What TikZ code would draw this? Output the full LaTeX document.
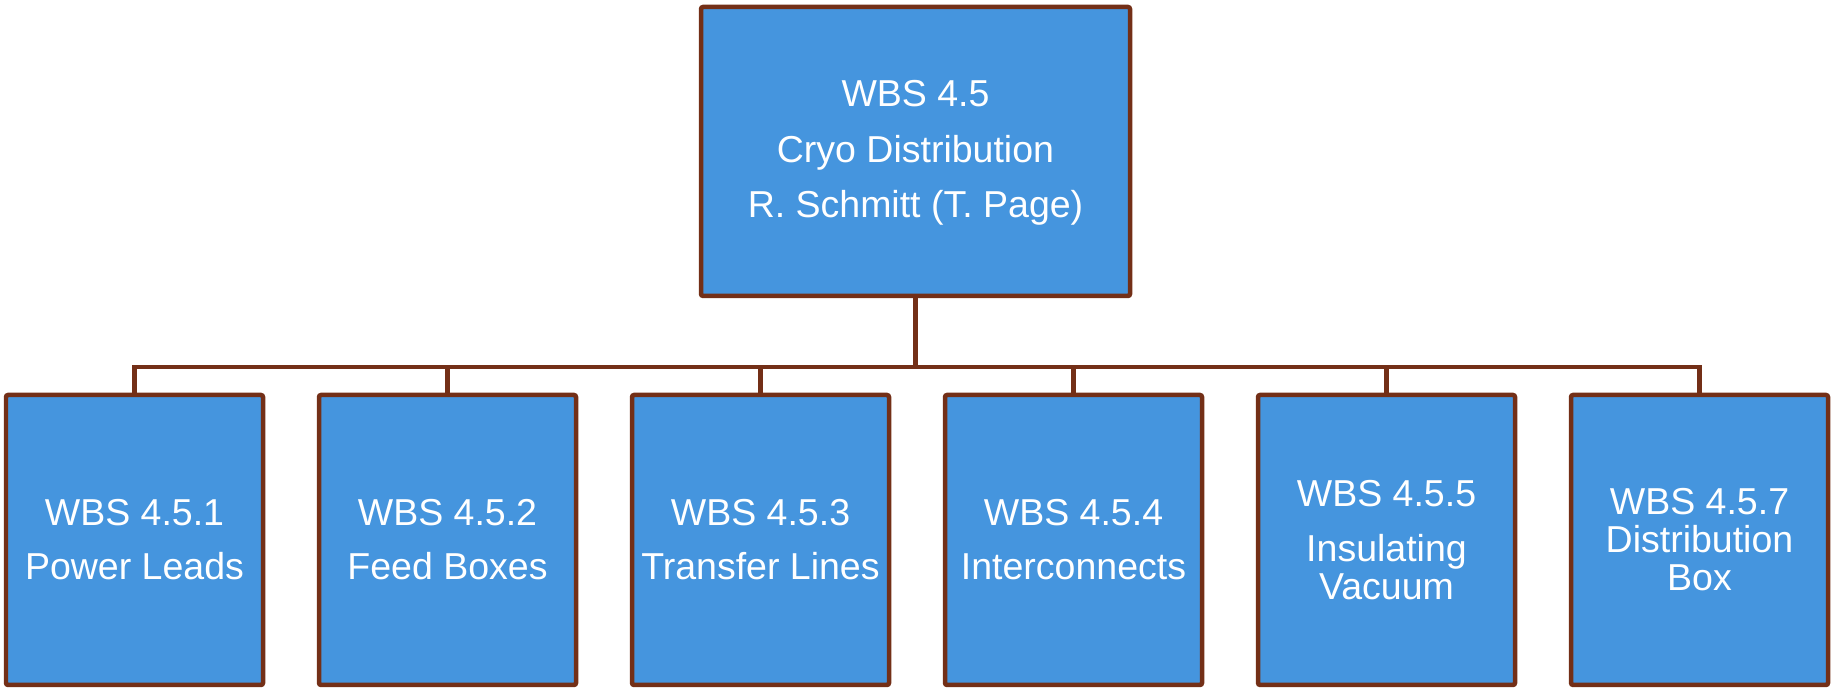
\documentclass[tikz,border=0pt]{standalone}
\usepackage{fontspec}
\setmainfont{Liberation Sans}
\usepackage{tikz}
\usepackage{xcolor}
\usetikzlibrary{positioning,calc}
\definecolor{wbsblue}{HTML}{4595DE}
\definecolor{wbsbrown}{HTML}{732F17}
\tikzset{
  wbsbox/.style   = {draw=wbsbrown, fill=wbsblue, line width=1.28pt,
                     rounded corners=0.6pt, align=center, text=white,
                     inner sep=0pt, font=\fontsize{10.67}{15.4}\selectfont},
  wbstop/.style   = {wbsbox, minimum width=4.29cm, minimum height=2.89cm,
                     font=\fontsize{10.67}{15.9}\selectfont,
                     text height=1.41cm, text depth=0.08cm},
  wbsleaf/.style  = {wbsbox, minimum width=2.57cm, minimum height=2.90cm},
  tightfit/.style = {font=\fontsize{10.67}{10.8}\selectfont},
  tie/.style      = {draw=wbsbrown, line width=1.28pt},
}

\begin{document}
\begin{tikzpicture}
  \useasboundingbox (0,0) rectangle (18.33,6.88);

  % ---------- top level ---------------------------------------------------
  \node[wbstop] (wbs) at (9.155,5.365)
    {WBS 4.5\\ Cryo Distribution\\ R. Schmitt (T. Page)};

  % ---------- level 2 -----------------------------------------------------
  \node[wbsleaf] (leads)    at ( 1.345,1.48) {WBS 4.5.1\\ Power Leads};
  \node[wbsleaf] (feed)     at ( 4.475,1.48) {WBS 4.5.2\\ Feed Boxes};
  \node[wbsleaf] (transfer) at ( 7.605,1.48) {WBS 4.5.3\\ Transfer Lines};
  \node[wbsleaf] (inter)    at (10.735,1.48) {WBS 4.5.4\\ Interconnects};
  \node[wbsleaf, tightfit] (vacuum)  at (13.865,1.48)
    {WBS 4.5.5\\[0.17cm] Insulating\\ Vacuum};
  \node[wbsleaf, tightfit] (distbox) at (16.995,1.48)
    {WBS 4.5.7\\ Distribution\\ Box};

  % ---------- connectors --------------------------------------------------
  \coordinate (bus) at (9.155,3.21);
  \draw[tie] (wbs.south) -- (bus);
  \draw[tie] (leads.north) |- (bus) -| (distbox.north);
  \draw[tie] (bus -| feed.north) -- (feed.north);
  \draw[tie] (bus -| transfer.north) -- (transfer.north);
  \draw[tie] (bus -| inter.north) -- (inter.north);
  \draw[tie] (bus -| vacuum.north) -- (vacuum.north);

\end{tikzpicture}
\end{document}
